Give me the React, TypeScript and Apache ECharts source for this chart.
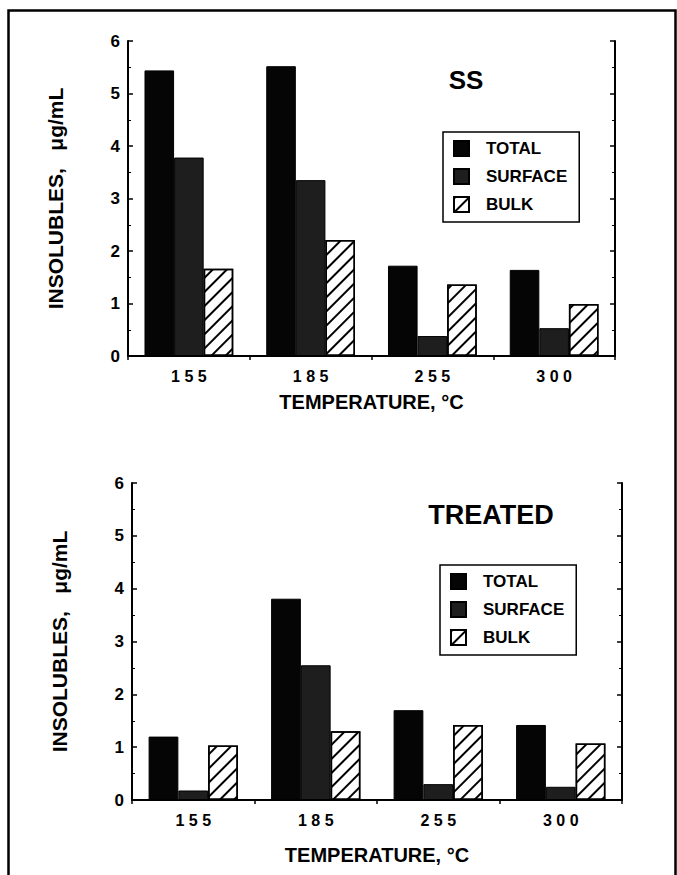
import React, { useEffect, useRef } from "react";
import * as echarts from "echarts";

// Temperature categories (°C) along the x axis
const categories = ["155", "185", "255", "300"];
const seriesNames = ["TOTAL", "SURFACE", "BULK"];
const yTicks = [0, 1, 2, 3, 4, 5, 6];

// Insolubles, µg/mL — stainless steel (SS)
const ssTotal = [5.44, 5.52, 1.72, 1.64];
const ssSurface = [3.78, 3.35, 0.38, 0.53];
const ssBulk = [1.66, 2.21, 1.36, 0.99];

// Insolubles, µg/mL — treated surface
const treatedTotal = [1.2, 3.81, 1.7, 1.42];
const treatedSurface = [0.18, 2.55, 0.3, 0.25];
const treatedBulk = [1.03, 1.3, 1.42, 1.07];

const FONT = "'Liberation Sans', Arial, Helvetica, sans-serif";
const INK = "#000";

const spaced = (s: string) => s.split("").join(" ");

const totalStyle = { color: "#050505", borderColor: INK, borderWidth: 1 };
const surfaceStyle = { color: "#1e1e1e", borderColor: INK, borderWidth: 1 };
const bulkStyle = {
  color: "#fff",
  borderColor: INK,
  borderWidth: 1.5,
  decal: {
    symbol: "rect",
    symbolSize: 1,
    color: INK,
    backgroundColor: "#fff",
    dashArrayX: [1, 0],
    dashArrayY: [1.8, 7.2],
    rotation: -Math.PI / 4,
  },
};

function makeAxes(gridIndex: number, xNameGap: number, yNameGap: number) {
  const xBottom = {
    type: "category",
    gridIndex,
    data: categories,
    position: "bottom",
    boundaryGap: true,
    name: "TEMPERATURE, °C",
    nameLocation: "middle",
    nameGap: xNameGap,
    nameTextStyle: { fontFamily: FONT, fontWeight: "bold", fontSize: 20, color: INK },
    axisLine: { show: true, lineStyle: { color: INK, width: 2 } },
    axisTick: { show: true, inside: false, length: 4, alignWithLabel: false, lineStyle: { color: INK, width: 1.5 } },
    axisLabel: {
      fontFamily: FONT,
      fontWeight: "bold",
      fontSize: 16,
      color: INK,
      margin: 12,
      formatter: (v: string) => spaced(v),
    },
    splitLine: { show: false },
  };
  const xTop = {
    type: "category",
    gridIndex,
    data: categories,
    position: "top",
    axisLine: { show: true, lineStyle: { color: INK, width: 2 } },
    axisTick: { show: false },
    axisLabel: { show: false },
    splitLine: { show: false },
  };
  const yLeft = {
    type: "value",
    gridIndex,
    position: "left",
    min: yTicks[0],
    max: yTicks[yTicks.length - 1],
    interval: 1,
    name: "INSOLUBLES,   μg/mL",
    nameLocation: "middle",
    nameGap: yNameGap,
    nameTextStyle: { fontFamily: FONT, fontWeight: "bold", fontSize: 21, color: INK },
    axisLine: { show: true, lineStyle: { color: INK, width: 2 } },
    axisTick: { show: true, inside: true, length: 5, lineStyle: { color: INK, width: 1.5 } },
    minorTick: { show: true, splitNumber: 2, length: 3, lineStyle: { color: INK, width: 1 } },
    axisLabel: { fontFamily: FONT, fontWeight: "bold", fontSize: 17, color: INK, margin: 8 },
    splitLine: { show: false },
  };
  const yRight = {
    type: "value",
    gridIndex,
    position: "right",
    min: yTicks[0],
    max: yTicks[yTicks.length - 1],
    interval: 1,
    axisLine: { show: true, lineStyle: { color: INK, width: 2 } },
    axisTick: { show: true, inside: true, length: 5, lineStyle: { color: INK, width: 1.5 } },
    minorTick: { show: true, splitNumber: 2, length: 3, lineStyle: { color: INK, width: 1 } },
    axisLabel: { show: false },
    splitLine: { show: false },
  };
  return { xAxes: [xBottom, xTop], yAxes: [yLeft, yRight] };
}

function barSeries(name: string, data: number[], style: any, axisIndex: number) {
  return {
    type: "bar",
    name,
    data,
    xAxisIndex: axisIndex,
    yAxisIndex: axisIndex,
    barWidth: "24.3%",
    barGap: "0%",
    itemStyle: style,
    emphasis: { disabled: true },
  };
}

function legendAt(left: number, top: number) {
  return {
    orient: "vertical",
    left,
    top,
    data: seriesNames,
    icon: "rect",
    itemWidth: 15,
    itemHeight: 15,
    itemGap: 11,
    padding: [8, 12, 9, 10],
    borderColor: INK,
    borderWidth: 1.5,
    backgroundColor: "#fff",
    selectedMode: false,
    textStyle: {
      fontFamily: FONT,
      fontWeight: "bold",
      fontSize: 17,
      color: INK,
      padding: [0, 0, 0, 12],
    },
  };
}

export default function App() {
  const ref = useRef<HTMLDivElement>(null);

  useEffect(() => {
    if (!ref.current) return;
    const chart = echarts.init(ref.current, null, { renderer: "svg" });

    const top = makeAxes(0, 36, 62);
    const bottom = makeAxes(1, 45, 62);

    chart.setOption({
      animation: false,
      backgroundColor: "#fff",
      grid: [
        { left: 128, right: 62, top: 41, height: 315 },
        { left: 132, right: 55, top: 483, height: 317 },
      ],
      xAxis: [...top.xAxes, ...bottom.xAxes],
      yAxis: [...top.yAxes, ...bottom.yAxes],
      legend: [legendAt(443, 132), legendAt(440, 565)],
      title: [
        {
          text: "SS",
          left: 466,
          top: 80,
          textAlign: "center",
          textVerticalAlign: "middle",
          padding: 0,
          textStyle: { fontFamily: FONT, fontWeight: "bold", fontSize: 26, color: INK },
        },
        {
          text: "TREATED",
          left: 491,
          top: 515,
          textAlign: "center",
          textVerticalAlign: "middle",
          padding: 0,
          textStyle: { fontFamily: FONT, fontWeight: "bold", fontSize: 27, color: INK },
        },
      ],
      graphic: [
        {
          type: "rect",
          shape: { x: 8.5, y: 10.5, width: 667, height: 900 },
          style: { fill: "none", stroke: INK, lineWidth: 2.5 },
          silent: true,
        },
      ],
      series: [
        barSeries("TOTAL", ssTotal, totalStyle, 0),
        barSeries("SURFACE", ssSurface, surfaceStyle, 0),
        barSeries("BULK", ssBulk, bulkStyle, 0),
        barSeries("TOTAL", treatedTotal, totalStyle, 2),
        barSeries("SURFACE", treatedSurface, surfaceStyle, 2),
        barSeries("BULK", treatedBulk, bulkStyle, 2),
      ],
    });

    return () => chart.dispose();
  }, []);

  return (
    <div
      ref={ref}
      style={{ position: "fixed", left: 0, top: 0, width: 677, height: 875, background: "#fff" }}
    />
  );
}
